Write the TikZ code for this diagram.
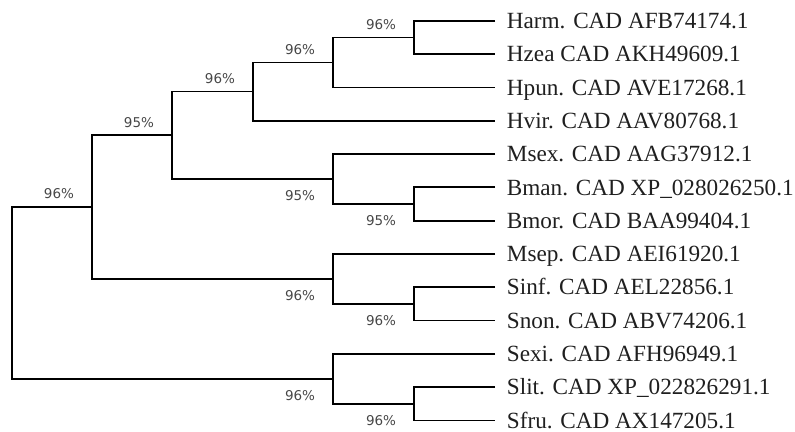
\documentclass[tikz,border=0pt]{standalone}
\usepackage{fontspec}
\setmainfont{Liberation Serif}
\newfontfamily\bootfont{DejaVu Sans}
\usetikzlibrary{calc}
\begin{document}
\begin{tikzpicture}[x=1bp,y=-1bp,
  branch/.style={line width=1.8bp, line join=miter, draw=black},
  leaf/.style={anchor=west, inner xsep=11.7bp, inner ysep=0pt, text height=15.4bp, text depth=0pt,
    font=\fontsize{23.2bp}{26bp}\selectfont, text=black!88},
  boot/.style={inner sep=0pt, text height=9.8bp, text depth=0pt, anchor=center,
    font=\bootfont\fontsize{13.5bp}{15bp}\selectfont, text=black!72}]
\useasboundingbox (0,0) rectangle (795,431);
% leaves
\node[leaf] (harm) at (495,20.8)  {Harm. CAD AFB74174.1};
\node[leaf] (hzea) at (495,54.1)  {Hzea CAD AKH49609.1};
\node[leaf] (hpun) at (495,87.4)  {Hpun. CAD AVE17268.1};
\node[leaf] (hvir) at (495,120.7) {Hvir. CAD AAV80768.1};
\node[leaf] (msex) at (495,154.0) {Msex. CAD AAG37912.1};
\node[leaf] (bman) at (495,187.3) {Bman. CAD XP\_028026250.1};
\node[leaf] (bmor) at (495,220.6) {Bmor. CAD BAA99404.1};
\node[leaf] (msep) at (495,253.9) {Msep. CAD AEI61920.1};
\node[leaf] (sinf) at (495,287.2) {Sinf. CAD AEL22856.1};
\node[leaf] (snon) at (495,320.5) {Snon. CAD ABV74206.1};
\node[leaf] (sexi) at (495,353.8) {Sexi. CAD AFH96949.1};
\node[leaf] (slit) at (495,387.1) {Slit. CAD XP\_022826291.1};
\node[leaf] (sfru) at (495,420.4) {Sfru. CAD AX147205.1};
% internal nodes
\coordinate (hh) at (414,37.45);
\coordinate (d)  at (333,62.43);
\coordinate (c)  at (253,91.56);
\coordinate (bb) at (414,203.95);
\coordinate (m)  at (333,178.98);
\coordinate (b)  at (172,135.27);
\coordinate (ss) at (414,303.85);
\coordinate (p)  at (333,278.88);
\coordinate (a)  at (92,207.07);
\coordinate (ll) at (414,403.75);
\coordinate (e)  at (333,378.78);
\coordinate (r)  at (12,292.9);
% branches
\draw[branch] (harm.west) -| (hh) |- (hzea.west);
\draw[branch] (hh) -| (d) |- (hpun.west);
\draw[branch] (d) -| (c) |- (hvir.west);
\draw[branch] (bman.west) -| (bb) |- (bmor.west);
\draw[branch] (msex.west) -| (m) |- (bb);
\draw[branch] (c) -| (b) |- (m);
\draw[branch] (sinf.west) -| (ss) |- (snon.west);
\draw[branch] (msep.west) -| (p) |- (ss);
\draw[branch] (b) -| (a) |- (p);
\draw[branch] (slit.west) -| (ll) |- (sfru.west);
\draw[branch] (sexi.west) -| (e) |- (ll);
\draw[branch] (a) -| (r) |- (e);
% bootstrap values
\node[boot] (la)  at ($(a)+(-33,-13)$)  {96\%};
\node[boot] (lb)  at ($(b)+(-33,-13)$)  {95\%};
\node[boot] (lc)  at ($(c)+(-33,-13)$)  {96\%};
\node[boot] (ld)  at ($(d)+(-33,-13)$)  {96\%};
\node[boot] (lhh) at ($(hh)+(-33,-13)$) {96\%};
\node[boot] (lm)  at ($(m)+(-33,16.5)$)  {95\%};
\node[boot] (lbb) at ($(bb)+(-33,16.5)$) {95\%};
\node[boot] (lp)  at ($(p)+(-33,16.5)$)  {96\%};
\node[boot] (lss) at ($(ss)+(-33,16.5)$) {96\%};
\node[boot] (le)  at ($(e)+(-33,16.5)$)  {96\%};
\node[boot] (lll) at ($(ll)+(-33,16.5)$) {96\%};
\end{tikzpicture}
\end{document}
